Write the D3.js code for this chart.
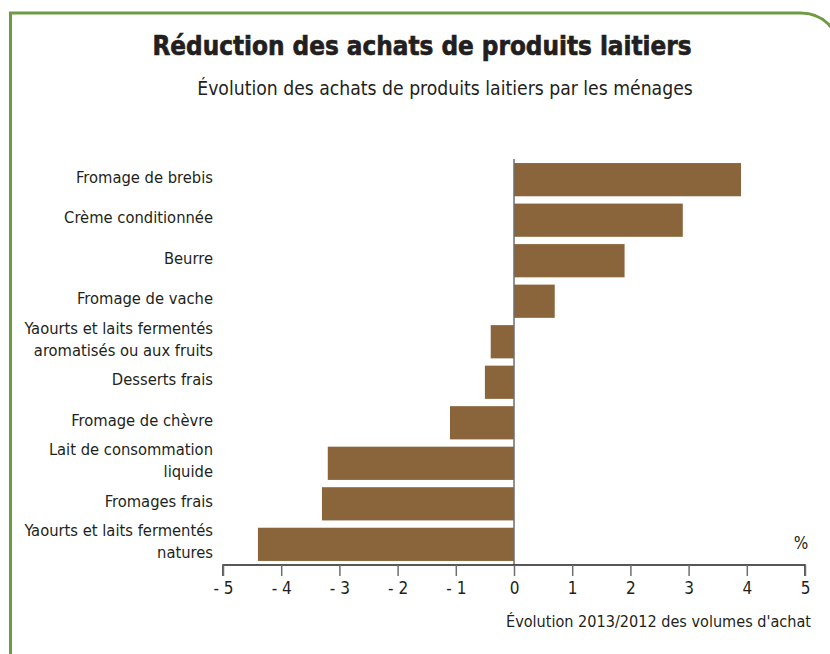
<!DOCTYPE html>
<html>
<head>
<meta charset="utf-8">
<script src="https://cdn.jsdelivr.net/npm/d3@7"></script>
<style>
  body { margin: 0; background: #fff; }
  svg text { font-family: "Liberation Sans Narrow", "DejaVu Sans Condensed", "Open Sans", sans-serif; fill: #231f20; }
</style>
</head>
<body>
<script>
var width = 830, height = 654;

// categories top to bottom, lines split where the label wraps
var categories = [
  "Fromage de brebis",
  "Crème conditionnée",
  "Beurre",
  "Fromage de vache",
  "Yaourts et laits fermentés|aromatisés ou aux fruits",
  "Desserts frais",
  "Fromage de chèvre",
  "Lait de consommation|liquide",
  "Fromages frais",
  "Yaourts et laits fermentés|natures"
];
var values = [3.9, 2.9, 1.9, 0.7, -0.4, -0.5, -1.1, -3.2, -3.3, -4.4];
var ticks = [-5, -4, -3, -2, -1, 0, 1, 2, 3, 4, 5];

var title = "Réduction des achats de produits laitiers";
var subtitle = "Évolution des achats de produits laitiers par les ménages";
var xTitle = "Évolution 2013/2012 des volumes d'achat";

var data = categories.map(function(c, i) { return {name: c, value: values[i]}; });

var svg = d3.select("body").append("svg")
    .attr("width", width)
    .attr("height", height);

// green frame with rounded top-right corner
svg.append("path")
    .attr("d", "M10.5,660 L10.5,13 L800,13 Q832,13 842,50")
    .attr("fill", "none")
    .attr("stroke", "#6f9a44")
    .attr("stroke-width", 3);

svg.append("text")
    .attr("x", 422).attr("y", 55)
    .attr("text-anchor", "middle")
    .style("font-family", "'DejaVu Sans Condensed', 'Liberation Sans Narrow', sans-serif")
    .style("font-weight", "bold")
    .style("font-size", "25.8px")
    .style("stroke", "#231f20")
    .style("stroke-width", 0.6)
    .text(title);

svg.append("text")
    .attr("x", 445).attr("y", 95)
    .attr("text-anchor", "middle")
    .style("font-size", "19.2px")
    .text(subtitle);

var x = d3.scaleLinear().domain([-5, 5]).range([223, 805]);
var y = d3.scaleBand().domain(categories).range([159, 565])
    .paddingInner(0.18).paddingOuter(0.1);

svg.selectAll(".bar")
    .data(data)
    .enter().append("rect")
    .attr("class", "bar")
    .attr("x", function(d) { return x(Math.min(0, d.value)); })
    .attr("y", function(d) { return y(d.name); })
    .attr("width", function(d) { return Math.abs(x(d.value) - x(0)); })
    .attr("height", y.bandwidth())
    .attr("fill", "#8a643a");

// zero line
svg.append("line")
    .attr("x1", x(0)).attr("x2", x(0))
    .attr("y1", 159).attr("y2", 565)
    .attr("stroke", "#6d6e71")
    .attr("stroke-width", 1.5);

// category labels
var labels = svg.selectAll(".lab")
    .data(data)
    .enter().append("text")
    .attr("class", "lab")
    .attr("text-anchor", "end")
    .style("font-size", "16.4px");
labels.each(function(d) {
  var lines = d.name.split("|");
  var cy = y(d.name) + y.bandwidth() / 2;
  var t = d3.select(this);
  lines.forEach(function(l, i) {
    t.append("tspan")
      .attr("x", 213)
      .attr("y", cy + 3 + (i - (lines.length - 1) / 2) * 22)
      .text(l);
  });
});

// x axis
var xAxis = d3.axisBottom(x)
    .tickValues(ticks)
    .tickSize(11)
    .tickPadding(6)
    .tickFormat(function(d) { return d < 0 ? "- " + Math.abs(d) : String(d); });

var gx = svg.append("g")
    .attr("transform", "translate(0,565)")
    .call(xAxis);
gx.select(".domain").attr("stroke", "#231f20").attr("stroke-width", 1.5)
    .attr("d", "M" + x(-5) + ",11V0H" + x(5) + "V11");
gx.selectAll(".tick line").attr("stroke", "#6d6e71").attr("stroke-width", 1.5);
gx.selectAll(".tick text")
    .style("font-size", "17px")
    .style("font-family", "'Liberation Sans Narrow', 'DejaVu Sans Condensed', sans-serif")
    .attr("fill", "#231f20");

svg.append("text")
    .attr("x", 811).attr("y", 627)
    .attr("text-anchor", "end")
    .style("font-size", "16.1px")
    .text(xTitle);

svg.append("text")
    .attr("x", 801).attr("y", 549)
    .attr("text-anchor", "middle")
    .style("font-size", "17px")
    .text("%");
</script>
</body>
</html>
